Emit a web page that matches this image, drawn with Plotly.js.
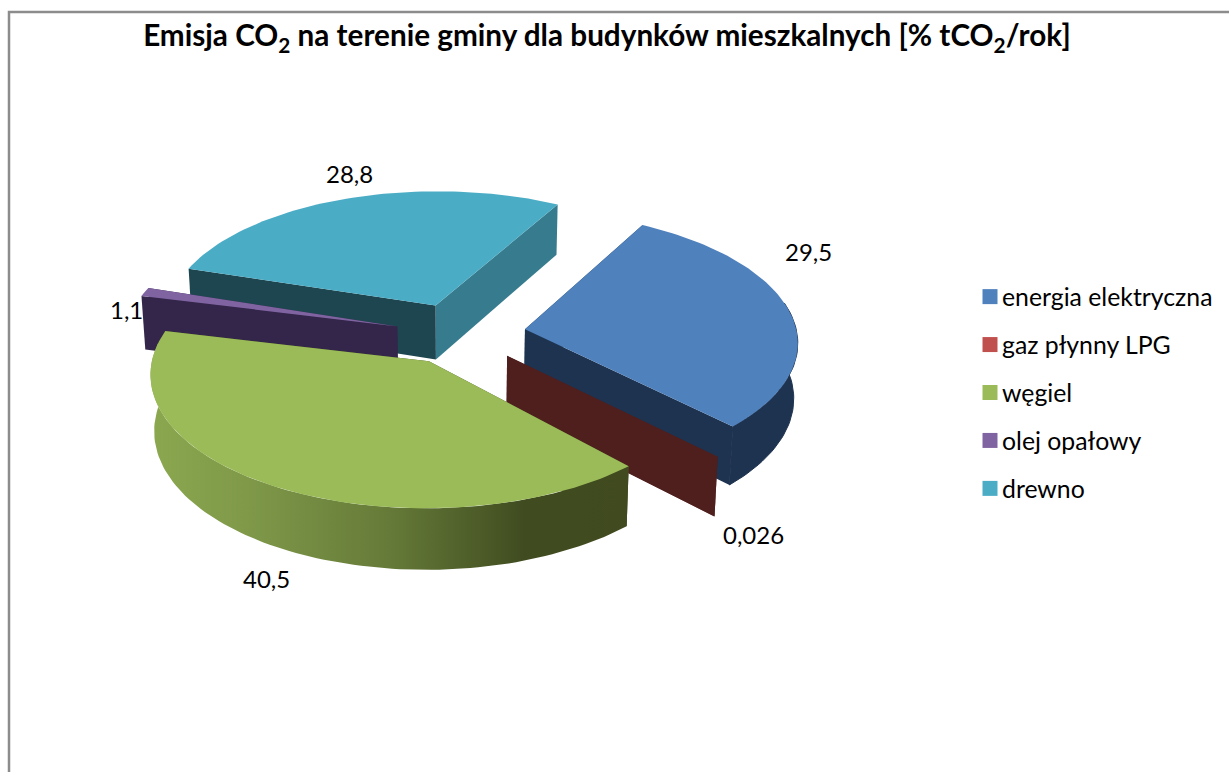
<!DOCTYPE html>
<html>
<head>
<meta charset="utf-8">
<script src="https://cdn.plot.ly/plotly-3.0.1.min.js"></script>
<style>html,body{margin:0;padding:0;background:#fff;overflow:hidden}#chart{width:1229px;height:772px}</style>
</head>
<body>
<div id="chart"></div>
<script>
const categories = ['energia elektryczna','gaz płynny LPG','węgiel','olej opałowy','drewno'];
const values = [29.5,0.026,40.5,1.1,28.8];
const valueLabels = ['29,5','0,026','40,5','1,1','28,8'];
const topColors = ['#4F81BD','#C0504D','#9BBB59','#8064A2','#4BACC6'];
const wallColors = ['#1E3350','#4F1F1E','#3F4A1E','#33264A','#1E4650'];
const endCutColors = ['#1E3350','#4F1F1E','#3F4A1E','#33264A','#377C8E'];
const labelAnchors = [[808,251],[753,534],[266,578],[126,309],[349,173]];
const drawOrder = [4,3,0,1,2];
// small correction (degrees) of each slice's two edges for the 3D camera
const edgeNudge = [[0,0],[0,0],[1.7,2],[2.8,2.8],[2.5,0]];

/* projection of the 3D pie */
const startDeg = 29, cx = 460.5, cy = 333.5, A = 272, B = 129, K = 0.0876, H = 55, PULL = 0.24, TAPER = 0.012;
const RIM_FROM = 78, RIM_TO = 278;
const FONT = 'Lato, Carlito, sans-serif';
const total = values.reduce((a,b)=>a+b,0);
const rad = d => d*Math.PI/180;
function proj(thetaDeg, r, midDeg, z){
  const u = r*Math.sin(rad(thetaDeg)) + PULL*Math.sin(rad(midDeg));
  const v = r*Math.cos(rad(thetaDeg)) + PULL*Math.cos(rad(midDeg));
  const s = 1/(1+K*v);
  return [cx + A*u*s*(1-TAPER*z), cy - B*v*s + H*s*z];
}
function poly(pts, color, lw, extra){
  return Object.assign({
    type:'scatter', mode:'lines', x:pts.map(p=>p[0]), y:pts.map(p=>p[1]),
    fill:'toself', fillcolor:color, line:{width:lw,color:color},
    showlegend:false, hoverinfo:'skip'
  }, extra||{});
}
let acc = startDeg;
const slices = values.map((v,i)=>{
  const s0=acc; acc+=v/total*360;
  const a0=s0+edgeNudge[i][0], a1=acc+edgeNudge[i][1];
  return {a0, a1, mid:(s0+acc)/2};
});

const traces = [];
drawOrder.forEach(i=>{
  const {a0,a1,mid} = slices[i];
  const n = Math.max(2, Math.ceil((a1-a0)/1.5));
  const topArc=[];
  for(let k=0;k<=n;k++) topArc.push(proj(a0+(a1-a0)*k/n,1,mid,0));
  const apexT=proj(0,0,mid,0), apexB=proj(0,0,mid,1);
  // cut faces
  traces.push(poly([apexT,proj(a1,1,mid,0),proj(a1,1,mid,1),apexB,apexT], endCutColors[i], 0));
  traces.push(poly([apexT,proj(a0,1,mid,0),proj(a0,1,mid,1),apexB,apexT], wallColors[i], 0));
  // rim: only the part facing the viewer
  const r0=Math.max(a0,RIM_FROM), r1=Math.min(a1,RIM_TO);
  if(r1>r0){
    const m=Math.max(2,Math.ceil((r1-r0)/1.5)), up=[], low=[];
    for(let k=0;k<=m;k++){const t=r0+(r1-r0)*k/m; up.push(proj(t,1,mid,0)); low.push(proj(t,1,mid,1));}
    const rim=up.concat(low.reverse()); rim.push(up[0]);
    const extra = i===2 ? {fillgradient:{type:'horizontal',start:150,stop:630,colorscale:[
      [0,'#8BA84F'],[0.2,'#7F9949'],[0.5,'#657A38'],[0.78,'#404C20'],[1,'#404A1E']]}} : {};
    traces.push(poly(rim, wallColors[i], i===0?1:0, extra));
  }
  // top
  const top=[apexT].concat(topArc); top.push(apexT);
  traces.push(poly(top, topColors[i], 0));
});
// legend entries
categories.forEach((c,i)=>{
  traces.push({type:'scatter',mode:'markers',x:[null],y:[null],name:c,legendgroup:c,
    marker:{symbol:'square',size:15,color:topColors[i]},hoverinfo:'skip'});
});

const layout = {
  width:1229,height:772,margin:{l:0,r:0,t:0,b:0},
  paper_bgcolor:'#fff',plot_bgcolor:'#fff',
  title:{text:'Emisja CO<sub>2</sub> na terenie gminy dla budynków mieszkalnych [% tCO<sub>2</sub>/rok]',
    font:{family:FONT,size:29.7,color:'#000',weight:700},
    x:607/1229,xanchor:'center',xref:'paper',y:1-36/772,yanchor:'middle',yref:'container'},
  xaxis:{range:[0,1229],visible:false,fixedrange:true},
  yaxis:{range:[772,0],visible:false,fixedrange:true},
  showlegend:true,
  legend:{x:962/1229,y:1-274/772,xanchor:'left',yanchor:'top',tracegroupgap:12.7,traceorder:'grouped',
    font:{family:FONT,size:24.8,color:'#000'},itemwidth:30,bgcolor:'rgba(0,0,0,0)',itemclick:false,itemdoubleclick:false},
  shapes:[{type:'path',path:'M 9 772 L 9 12 L 1229 12',line:{color:'#8C8C8C',width:2.5},layer:'below'}],
  annotations:valueLabels.map((t,i)=>({x:labelAnchors[i][0],y:labelAnchors[i][1],text:t,showarrow:false,
    xanchor:'center',yanchor:'middle',font:{family:FONT,size:24,color:'#000'}}))
};
Plotly.newPlot('chart',traces,layout,{displayModeBar:false}).then(()=>{
  // legend swatches sit closer to their labels in the reference
  document.querySelectorAll('.legend .legendpoints path').forEach(p=>p.setAttribute('transform','translate(28,0)'));
});
</script>
</body>
</html>
